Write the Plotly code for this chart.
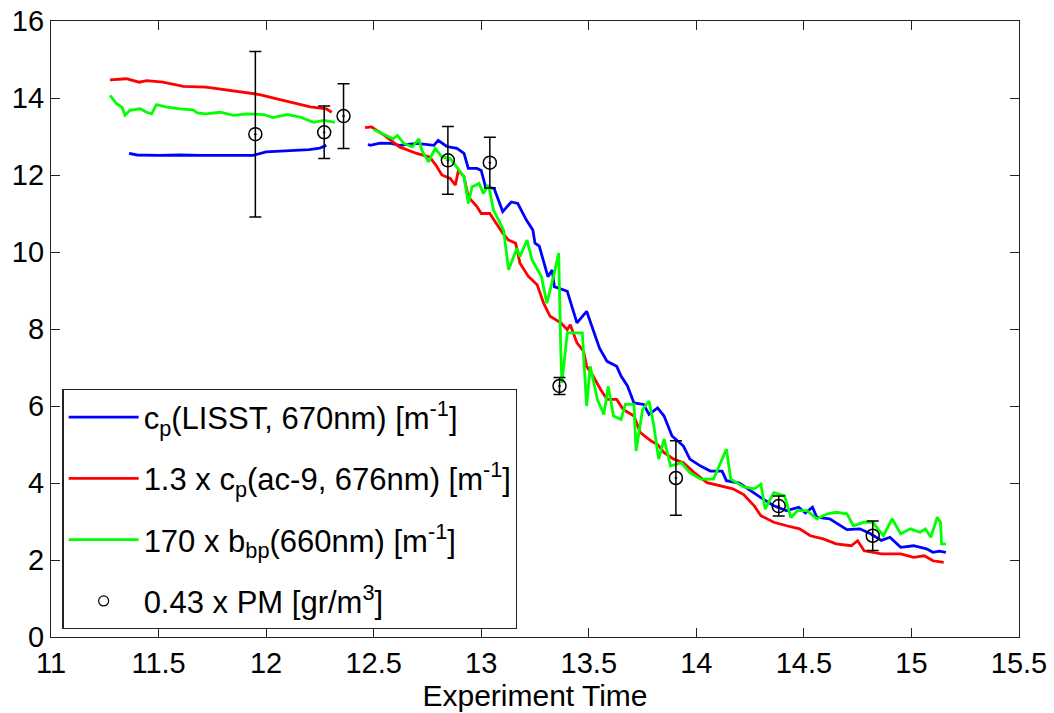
import plotly.graph_objects as go

# ---- data ----
lisst_x = [11.363, 11.40, 11.50, 11.60, 11.70, 11.80, 11.90, 11.94, 12.00, 12.06, 12.13, 12.20, 12.25, 12.28,
           None,
           12.474, 12.484, 12.53, 12.58, 12.62, 12.70, 12.78, 12.80, 12.84, 12.887, 12.92, 12.94, 12.98, 13.00,
           13.02, 13.06, 13.10, 13.14, 13.17, 13.21, 13.24, 13.25, 13.27, 13.31, 13.33, 13.34, 13.40, 13.445,
           13.49, 13.51, 13.55, 13.585, 13.63, 13.65, 13.68, 13.71, 13.755, 13.78, 13.82, 13.85, 13.887, 13.94,
           13.97, 14.02, 14.065, 14.12, 14.14, 14.20, 14.25, 14.30, 14.36, 14.42, 14.476, 14.507, 14.54, 14.56,
           14.62, 14.67, 14.70, 14.76, 14.81, 14.86, 14.90, 14.95, 15.01, 15.07, 15.10, 15.13, 15.16]
lisst_y = [12.56, 12.52, 12.51, 12.52, 12.51, 12.51, 12.52, 12.51, 12.60, 12.62, 12.64, 12.66, 12.70, 12.77,
           None,
           12.80, 12.77, 12.83, 12.82, 12.77, 12.82, 12.77, 12.90, 12.74, 12.69, 12.56, 12.17, 12.17, 12.12,
           11.69, 11.65, 11.05, 11.30, 11.26, 10.83, 10.57, 10.23, 10.15, 9.36, 9.53, 9.10, 8.98, 8.16,
           8.46, 8.15, 7.50, 7.16, 7.03, 6.78, 6.52, 6.08, 6.04, 5.78, 5.95, 5.74, 5.22, 4.96,
           4.62, 4.44, 4.31, 4.31, 4.06, 4.00, 3.80, 3.62, 3.41, 3.28, 3.37, 3.22, 3.37, 3.11,
           3.07, 2.90, 2.79, 2.81, 2.68, 2.51, 2.59, 2.33, 2.37, 2.29, 2.20, 2.23, 2.20]

ac9_x = [11.274, 11.35, 11.41, 11.445, 11.52, 11.615, 11.72, 11.82, 11.89, 11.97, 12.05, 12.13, 12.205, 12.28, 12.305,
         None,
         12.46, 12.49, 12.55, 12.62, 12.70, 12.76, 12.79, 12.817, 12.856, 12.88, 12.894, 12.92, 12.94, 12.98,
         13.00, 13.04, 13.07, 13.10, 13.127, 13.16, 13.18, 13.22, 13.26, 13.29, 13.32, 13.37, 13.40, 13.414,
         13.445, 13.476, 13.49, 13.52, 13.555, 13.585, 13.63, 13.66, 13.71, 13.74, 13.79, 13.82, 13.85, 13.895,
         13.94, 13.99, 14.05, 14.10, 14.17, 14.22, 14.27, 14.30, 14.36, 14.42, 14.48, 14.53, 14.59, 14.65,
         14.72, 14.75, 14.78, 14.86, 14.95, 15.01, 15.06, 15.10, 15.15]
ac9_y = [14.47, 14.50, 14.41, 14.45, 14.41, 14.30, 14.28, 14.21, 14.15, 14.09, 13.98, 13.87, 13.77, 13.72, 13.63,
         None,
         13.23, 13.25, 13.03, 12.73, 12.56, 12.47, 12.25, 12.00, 11.91, 11.74, 12.12, 11.95, 11.43, 11.18,
         11.00, 11.00, 10.74, 10.49, 10.31, 10.23, 9.71, 9.36, 9.15, 8.67, 8.33, 8.16, 7.98, 8.11,
         7.64, 7.42, 7.03, 6.78, 6.43, 6.17, 6.17, 5.91, 5.74, 5.31, 5.09, 5.00, 4.79, 4.62,
         4.53, 4.27, 4.01, 3.95, 3.85, 3.70, 3.40, 3.15, 2.98, 2.89, 2.81, 2.63, 2.55, 2.42,
         2.37, 2.50, 2.24, 2.16, 2.16, 2.07, 2.11, 1.98, 1.94]

bbp_x = [11.274, 11.305, 11.33, 11.344, 11.367, 11.414, 11.445, 11.468, 11.49, 11.54, 11.60, 11.66, 11.68, 11.72,
         11.786, 11.85, 11.91, 11.99, 12.03, 12.10, 12.16, 12.22, 12.27, 12.32,
         None,
         12.50, 12.545, 12.59, 12.61, 12.64, 12.68, 12.71, 12.724, 12.755, 12.786, 12.817, 12.856, 12.887, 12.92,
         12.94, 12.957, 12.99, 13.01, 13.034, 13.057, 13.104, 13.127, 13.166, 13.18, 13.213, 13.236, 13.28, 13.305,
         13.336, 13.36, 13.37, 13.375, 13.40, 13.437, 13.47, 13.49, 13.507, 13.54, 13.57, 13.59, 13.615, 13.65,
         13.67, 13.71, 13.72, 13.75, 13.78, 13.80, 13.825, 13.85, 13.88, 13.93, 13.97, 14.02, 14.08, 14.14,
         14.16, 14.22, 14.27, 14.30, 14.32, 14.36, 14.41, 14.44, 14.47, 14.515, 14.56, 14.61, 14.65, 14.70,
         14.73, 14.78, 14.82, 14.87, 14.91, 14.95, 14.995, 15.04, 15.065, 15.09, 15.12, 15.135, 15.14, 15.16]
bbp_y = [14.07, 13.85, 13.76, 13.55, 13.68, 13.72, 13.63, 13.59, 13.83, 13.76, 13.72, 13.69, 13.61, 13.59,
         13.63, 13.55, 13.59, 13.57, 13.49, 13.57, 13.50, 13.37, 13.42, 13.37,
         None,
         13.18, 13.07, 12.94, 13.03, 12.82, 12.73, 12.94, 12.64, 12.34, 12.69, 12.47, 12.43, 12.20, 11.95,
         11.26, 11.69, 11.78, 11.52, 11.74, 11.09, 10.57, 9.54, 10.10, 9.88, 10.31, 9.80, 9.36, 8.67,
         9.36, 9.97, 7.42, 6.60, 7.90, 7.90, 7.90, 6.00, 7.03, 6.17, 5.78, 6.51, 5.74, 5.65,
         6.04, 6.04, 4.83, 5.91, 6.13, 5.57, 4.62, 5.14, 4.44, 4.53, 4.27, 4.10, 4.10, 4.88,
         4.10, 3.90, 3.85, 3.97, 3.32, 3.75, 3.67, 3.10, 3.28, 3.28, 3.07, 3.20, 3.24, 3.20,
         2.89, 2.98, 2.98, 2.63, 3.07, 2.68, 2.81, 2.72, 2.81, 2.59, 3.11, 2.98, 2.42, 2.42]

pm_x = [11.95, 12.27, 12.36, 12.845, 13.04, 13.364, 13.905, 14.383, 14.82]
pm_y = [13.06, 13.11, 13.53, 12.38, 12.32, 6.52, 4.13, 3.40, 2.63]
pm_err = [2.15, 0.68, 0.84, 0.88, 0.66, 0.22, 0.97, 0.26, 0.38]

x_ticks = [11, 11.5, 12, 12.5, 13, 13.5, 14, 14.5, 15, 15.5]
y_ticks = [0, 2, 4, 6, 8, 10, 12, 14, 16]

names = ["c<sub>p</sub>(LISST, 670nm) [m<sup>-1</sup>]",
         "1.3 x c<sub>p</sub>(ac-9, 676nm) [m<sup>-1</sup>]",
         "170 x b<sub>bp</sub>(660nm) [m<sup>-1</sup>]",
         "0.43 x PM [gr/m<sup>3</sup>]"]

FONT = "Liberation Sans, Arial, sans-serif"

fig = go.Figure()
for i, (xs, ys, col) in enumerate([(lisst_x, lisst_y, "#0000FF"),
                                    (ac9_x, ac9_y, "#FF0000"),
                                    (bbp_x, bbp_y, "#00FF00")]):
    fig.add_trace(go.Scatter(x=xs, y=ys, mode="lines", name=names[i],
                             line=dict(color=col, width=2.8), connectgaps=False,
                             legendgroup=f"g{i}"))

fig.add_trace(go.Scatter(x=pm_x, y=pm_y, mode="markers", showlegend=False,
                         marker=dict(symbol="circle-open-dot", size=13, color="black",
                                     line=dict(color="black", width=1.5)),
                         error_y=dict(type="data", array=pm_err, visible=True,
                                      color="black", thickness=1.5, width=6)))
fig.add_trace(go.Scatter(x=[None], y=[None], mode="markers", name=names[3],
                         legendgroup="g3",
                         marker=dict(symbol="circle-open", size=10, color="black",
                                     line=dict(color="black", width=1.2))))

axis_common = dict(showline=True, linecolor="#222222", linewidth=1.3, mirror="ticks",
                   ticks="inside", ticklen=9, tickcolor="#222222", tickwidth=1.2,
                   showgrid=False, zeroline=False, automargin=False,
                   tickfont=dict(family=FONT, size=29, color="black"))

fig.update_layout(
    width=1054, height=713,
    margin=dict(l=51, r=35, t=21, b=76),
    paper_bgcolor="white", plot_bgcolor="white",
    xaxis=dict(range=[11, 15.5], tickvals=x_ticks,
               ticktext=[f"{v:g}" for v in x_ticks],
               ticklabelstandoff=0,
               title=dict(text="Experiment Time", font=dict(family=FONT, size=30, color="black"),
                          standoff=6),
               **axis_common),
    yaxis=dict(range=[0, 16], tickvals=y_ticks, ticktext=[str(v) for v in y_ticks],
               ticklabelstandoff=0,
               **axis_common),
    legend=dict(x=0.0117, y=0.4024, xanchor="left", yanchor="top",
                bgcolor="white", bordercolor="#222222", borderwidth=1.3,
                font=dict(family=FONT, size=31, color="black"),
                itemwidth=70, tracegroupgap=18, traceorder="grouped"),
    showlegend=True,
)

fig.write_html("out.html", config={"displayModeBar": False},
               post_script="document.body.style.margin='0';document.body.style.padding='0';")
